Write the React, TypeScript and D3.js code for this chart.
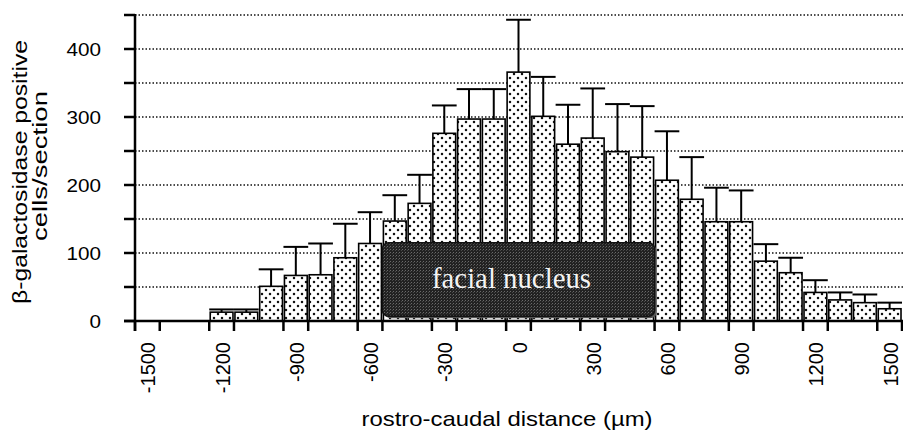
import React, { useEffect, useRef } from "react";
import { select, scaleLinear } from "d3";

// rostro-caudal position of each section (µm)
const positions = [
  -1500, -1400, -1300, -1200, -1100, -1000, -900, -800, -700, -600, -500, -400,
  -300, -200, -100, 0, 100, 200, 300, 400, 500, 600, 700, 800, 900, 1000, 1100,
  1200, 1300, 1400, 1500,
];
// mean β-galactosidase positive cells / section
const means = [
  0, 0, 0, 13, 13, 51, 67, 68, 93, 114, 147, 173, 276, 297, 297, 366, 301, 260,
  269, 249, 241, 207, 179, 146, 146, 88, 71, 42, 31, 27, 18,
];
// top of the error bar (mean + SEM)
const errTops = [
  0, 0, 0, 17, 17, 76, 109, 114, 143, 160, 185, 215, 317, 341, 341, 443, 359,
  318, 342, 319, 316, 279, 241, 196, 192, 113, 93, 60, 42, 39, 27,
];
const xTickLabels = [-1500, -1200, -900, -600, -300, 0, 300, 600, 900, 1200, 1500];
const yTickLabels = [0, 100, 200, 300, 400];
const gridValues = [50, 100, 150, 200, 250, 300, 350, 400, 450];
const nucleusSpan = [-550, 550];
const nucleusRange = [7, 115];

const W = 903;
const H = 433;

const App: React.FC = () => {
  const svgRef = useRef<SVGSVGElement>(null);

  useEffect(() => {
    if (!svgRef.current) return;
    const svg = select(svgRef.current);
    svg.selectAll("*").remove();

    const x = scaleLinear().domain([-1550, 1550]).range([135, 902]);
    const y = scaleLinear().domain([0, 450]).range([321, 15]);
    const font = "Liberation Sans, Arial, Helvetica, sans-serif";

    const defs = svg.append("defs");
    const dots = defs
      .append("pattern")
      .attr("id", "stipple")
      .attr("patternUnits", "userSpaceOnUse")
      .attr("width", 8)
      .attr("height", 8);
    dots.append("rect").attr("width", 8).attr("height", 8).attr("fill", "#fff");
    dots.append("circle").attr("cx", 2).attr("cy", 2).attr("r", 1.25).attr("fill", "#111");
    dots.append("circle").attr("cx", 6).attr("cy", 6).attr("r", 1.25).attr("fill", "#111");

    const dark = defs
      .append("pattern")
      .attr("id", "dark")
      .attr("patternUnits", "userSpaceOnUse")
      .attr("width", 3)
      .attr("height", 3);
    dark.append("rect").attr("width", 3).attr("height", 3).attr("fill", "#222");
    dark.append("rect").attr("x", 0).attr("y", 0).attr("width", 1).attr("height", 1).attr("fill", "#6a6a6a");
    dark.append("rect").attr("x", 2).attr("y", 1).attr("width", 1).attr("height", 1).attr("fill", "#4a4a4a");

    // dotted grid
    svg
      .append("g")
      .selectAll("line")
      .data(gridValues)
      .enter()
      .append("line")
      .attr("x1", 135)
      .attr("x2", W)
      .attr("y1", (d) => y(d))
      .attr("y2", (d) => y(d))
      .attr("stroke", "#111")
      .attr("stroke-width", 1.5)
      .attr("stroke-dasharray", "1.5,2");

    const data = positions.map((p, i) => ({ p, m: means[i], e: errTops[i] }));
    const shown = data.filter((d) => d.m > 0);

    // error bars
    const eb = svg.append("g").attr("stroke", "#000").attr("stroke-width", 2);
    eb.selectAll(".stem")
      .data(shown)
      .enter()
      .append("line")
      .attr("x1", (d) => x(d.p))
      .attr("x2", (d) => x(d.p))
      .attr("y1", (d) => y(d.m))
      .attr("y2", (d) => y(d.e));
    eb.selectAll(".cap")
      .data(shown)
      .enter()
      .append("line")
      .attr("x1", (d) => x(d.p - 50))
      .attr("x2", (d) => x(d.p + 50))
      .attr("y1", (d) => y(d.e))
      .attr("y2", (d) => y(d.e));

    // bars
    svg
      .append("g")
      .selectAll("rect")
      .data(shown)
      .enter()
      .append("rect")
      .attr("x", (d) => x(d.p - 46))
      .attr("width", x(46) - x(-46))
      .attr("y", (d) => y(d.m))
      .attr("height", (d) => y(0) - y(d.m))
      .attr("fill", "url(#stipple)")
      .attr("stroke", "#000")
      .attr("stroke-width", 1.6);

    // facial nucleus box
    const bx = x(nucleusSpan[0]);
    const bw = x(nucleusSpan[1]) - bx;
    const by = y(nucleusRange[1]);
    const bh = y(nucleusRange[0]) - by;
    svg
      .append("rect")
      .attr("x", bx + 2)
      .attr("y", by + 2)
      .attr("width", bw)
      .attr("height", bh)
      .attr("rx", 6)
      .attr("fill", "#555");
    svg
      .append("rect")
      .attr("x", bx)
      .attr("y", by)
      .attr("width", bw)
      .attr("height", bh)
      .attr("rx", 6)
      .attr("fill", "url(#dark)")
      .attr("stroke", "#111")
      .attr("stroke-width", 1.5);
    svg
      .append("text")
      .attr("x", bx + bw / 2 - 7)
      .attr("y", by + 45)
      .attr("text-anchor", "middle")
      .attr("font-family", "Liberation Serif, Times New Roman, serif")
      .attr("font-size", 29)
      .attr("fill", "#f4f4f4")
      .attr("textLength", 159)
      .attr("lengthAdjust", "spacingAndGlyphs")
      .text("facial nucleus");

    // axes
    const ax = svg.append("g").attr("stroke", "#000").attr("stroke-width", 2.5);
    ax.append("line").attr("x1", 135).attr("x2", 135).attr("y1", 14).attr("y2", 331);
    ax.append("line").attr("x1", 124).attr("x2", W).attr("y1", 321).attr("y2", 321);
    ax.selectAll(".yt")
      .data([0, ...gridValues])
      .enter()
      .append("line")
      .attr("x1", 124)
      .attr("x2", 135)
      .attr("y1", (d) => y(d))
      .attr("y2", (d) => y(d));
    const xEdges = xTickLabels.flatMap((t) => [t - 50, t + 50]);
    ax.selectAll(".xt")
      .data(xEdges)
      .enter()
      .append("line")
      .attr("x1", (d) => x(d))
      .attr("x2", (d) => x(d))
      .attr("y1", 321)
      .attr("y2", 331);

    // y tick labels
    svg
      .append("g")
      .selectAll("text")
      .data(yTickLabels)
      .enter()
      .append("text")
      .attr("x", 101)
      .attr("y", (d) => y(d) + 6.5)
      .attr("text-anchor", "end")
      .attr("font-family", font)
      .attr("font-size", 18)
      .attr("textLength", (d) => String(d).length * 11.5)
      .attr("lengthAdjust", "spacingAndGlyphs")
      .text((d) => d);

    // x tick labels
    svg
      .append("g")
      .selectAll("text")
      .data(xTickLabels)
      .enter()
      .append("text")
      .attr("transform", (d) => `translate(${x(d) + 8},342) rotate(-90)`)
      .attr("text-anchor", "end")
      .attr("font-family", font)
      .attr("font-size", 20)
      .text((d) => d);

    // titles
    svg
      .append("text")
      .attr("x", 507)
      .attr("y", 426)
      .attr("text-anchor", "middle")
      .attr("font-family", font)
      .attr("font-size", 21)
      .attr("textLength", 291)
      .attr("lengthAdjust", "spacingAndGlyphs")
      .text("rostro-caudal distance (µm)");
    svg
      .append("text")
      .attr("transform", "translate(27,172) rotate(-90)")
      .attr("text-anchor", "middle")
      .attr("font-family", font)
      .attr("font-size", 20)
      .attr("textLength", 264)
      .attr("lengthAdjust", "spacingAndGlyphs")
      .text("β-galactosidase positive");
    svg
      .append("text")
      .attr("transform", "translate(47,166) rotate(-90)")
      .attr("text-anchor", "middle")
      .attr("font-family", font)
      .attr("font-size", 20)
      .attr("textLength", 150)
      .attr("lengthAdjust", "spacingAndGlyphs")
      .text("cells/section");
  }, []);

  return (
    <svg
      ref={svgRef}
      width={W}
      height={H}
      style={{ position: "absolute", left: 0, top: 0, background: "#fff" }}
    />
  );
};

export default App;
